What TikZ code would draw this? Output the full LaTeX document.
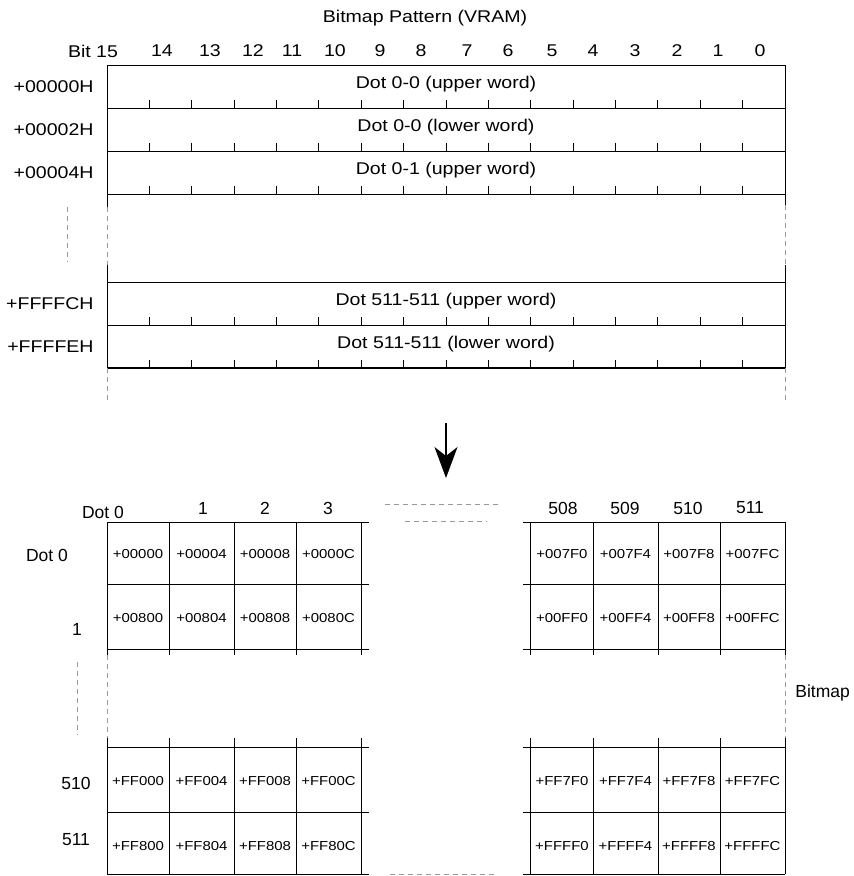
\documentclass[tikz,border=0pt]{standalone}
\usepackage{fontspec}
\setmainfont[FakeStretch=1.15]{Liberation Sans}
\newfontfamily\hdrfont{Liberation Sans}
\usetikzlibrary{arrows.meta}

\begin{document}
\begin{tikzpicture}[x=1pt, y=-1pt, line width=0.8pt,
  lbl/.style={font=\fontsize{17}{19}\selectfont, inner sep=0pt},
  hdr/.style={font=\hdrfont\fontsize{17.5}{19}\selectfont, inner sep=0pt},
  cell/.style={font=\fontsize{13}{15}\selectfont, inner sep=0pt},
  gap/.style={draw=gray!80, dash pattern=on 5pt off 4pt}]
\useasboundingbox (0,0) rectangle (854,876);
\node[lbl] (title) at (425,18) {Bitmap Pattern (VRAM)};
\node[lbl] (b15) at (93,51) {Bit 15};
\foreach \b/\x in {14/162,13/210,12/253,11/292,10/335,9/380,8/421,7/467,6/508,5/552,4/593,3/635,2/677,1/718,0/760}
  \node[lbl] (b\b) at (\x,51) {\b};
\foreach \t/\a/\txt [count=\i] in {65/+00000H/Dot 0-0 (upper word), 108/+00002H/Dot 0-0 (lower word),
    151/+00004H/Dot 0-1 (upper word), 282/+FFFFCH/Dot 511-511 (upper word), 325/+FFFFEH/Dot 511-511 (lower word)} {
  \draw (107,\t) rectangle (785,\t+43);
  \foreach \k in {1,...,15} \draw (107+42.375*\k,\t+35) -- ++(0,8);
  \node[lbl, anchor=east] (a\i) at (94,\t+21.5) {\a};
  \node[lbl] (w\i) at (446,\t+19.5) {\txt};
}
\draw (107,194) -- (107,207) (785,194) -- (785,205) (107,265) -- (107,282) (785,265) -- (785,282);
\draw[gap] (107,207) -- (107,265) (785,205) -- (785,265) (67,207) -- (67,262);
\draw[line width=1.6pt] (107,368) -- (785,368);
\draw[gap] (107,368) -- (107,402) (785,368) -- (785,402);
\coordinate (atop) at (446,423);
\coordinate (abot) at (446,478);
\draw[-{Stealth[length=31pt,width=23pt,inset=9pt]}, line width=1.2pt] (atop) -- (abot);
\draw[gap] (385,504) -- (500,504) (405,521) -- (487,521) (390,874) -- (495,874);
\foreach \x in {107,169,234,296,361,530,593,658,720,785} {
  \draw (\x,522) -- (\x,655);
  \draw (\x,738) -- (\x,874);
}
\foreach \y in {522,584,649,747,812,874} {
  \draw (107,\y) -- (369,\y);
  \draw (523,\y) -- (785,\y);
}
\draw[gap] (107,655) -- (107,738) (785,655) -- (785,738) (77,662) -- (77,735);
\foreach \y/\pl/\pr [count=\i] in {554/000/007, 618/008/00F, 781/FF0/FF7, 846/FF8/FFF}
  \foreach \x/\s [count=\j] in {138/0, 201.5/4, 265/8, 328.5/C} {
    \node[cell] (l\i\j) at (\x,\y) {+\pl0\s};
    \node[cell] (r\i\j) at (\x+424,\y) {+\pr F\s};
  }
\node[hdr] (c0) at (103,512) {Dot 0};
\foreach \c/\x in {1/203, 2/265, 3/328, 508/563, 509/625, 510/688, 511/750}
  \node[hdr] (c\c) at (\x,508) {\c};
\node[hdr] (r0) at (47,555) {Dot 0};
\node[hdr] (r1) at (77,629) {1};
\node[hdr] (r510) at (76,783) {510};
\node[hdr] (r511) at (76,840) {511};
\node[hdr, anchor=west] (bmp) at (795,693) {Bitmap};
\end{tikzpicture}
\end{document}
